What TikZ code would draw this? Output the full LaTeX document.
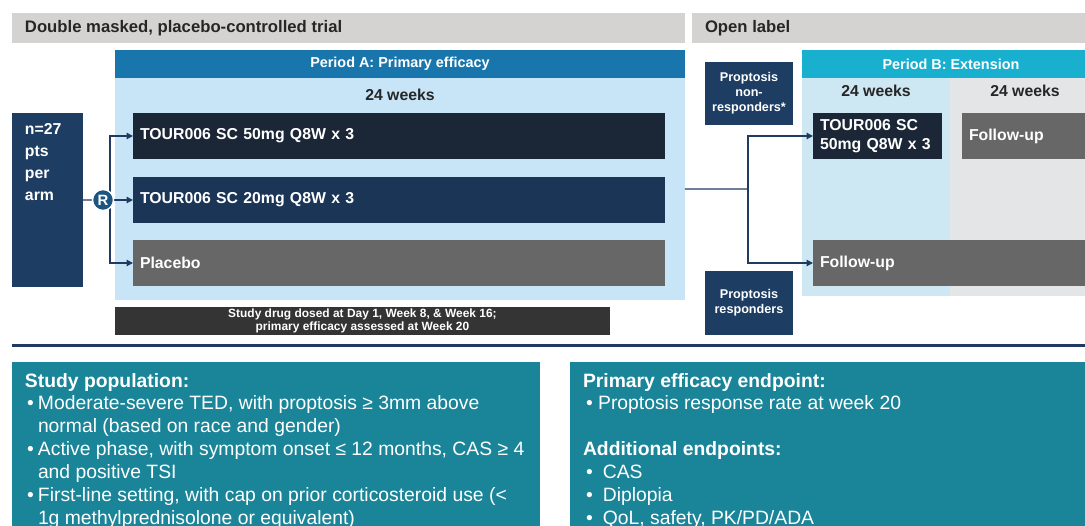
\documentclass[tikz,border=0pt]{standalone}
\usepackage{fontspec}
\setmainfont{Liberation Sans}
\usepackage{tikz}
\usetikzlibrary{arrows.meta}
\definecolor{hdrgrey}{RGB}{212,211,210}
\definecolor{blueA}{RGB}{24,118,173}
\definecolor{paleA}{RGB}{199,229,246}
\definecolor{cyanB}{RGB}{25,176,208}
\definecolor{paleB}{RGB}{205,231,243}
\definecolor{greyB}{RGB}{228,229,231}
\definecolor{navyP}{RGB}{30,61,99}
\definecolor{navyA}{RGB}{27,38,54}
\definecolor{navyB}{RGB}{27,53,87}
\definecolor{greyArm}{RGB}{103,103,103}
\definecolor{darkNote}{RGB}{52,52,52}
\definecolor{lineC}{RGB}{31,59,96}
\definecolor{rC}{RGB}{28,85,128}
\definecolor{tealC}{RGB}{26,133,152}
\definecolor{txtC}{RGB}{38,38,38}
\newcommand\itemdotA{\makebox[7.4pt][l]{\hspace*{1.2pt}\textbullet}}
\newcommand\itemdotB{\makebox[8.6pt][l]{\hspace*{1.8pt}\textbullet}}
\newcommand\itemdotC{\makebox[11.3pt][l]{\hspace*{1.8pt}\textbullet}}

\begin{document}
\begin{tikzpicture}[x=0.02cm, y=-0.02cm,
    every node/.style={inner sep=0, outer sep=0},
    bg/.style={anchor=north west},
    box/.style={anchor=north west, text=white, font=\bfseries\fontsize{9}{10.5}\selectfont},
    arm/.style={box, inner xsep=0.14cm, minimum height=0.92cm, align=left},
    tag/.style={box, fill=navyP, minimum width=1.76cm, align=center, font=\bfseries\fontsize{7.2}{8.5}\selectfont},
    hdr/.style={bg, fill=hdrgrey, minimum height=0.6cm},
    wk/.style={text=txtC, font=\bfseries\fontsize{9}{10}\selectfont},
    per/.style={box, minimum height=0.56cm, font=\bfseries\fontsize{8.2}{9}\selectfont},
    lnk/.style={draw=lineC, line width=0.7pt},
    arr/.style={lnk, -{Triangle[length=3.6pt, width=3.6pt]}},
    info/.style={anchor=north west, align=left, text=white, font=\fontsize{11}{13}\selectfont}]
  \useasboundingbox (0,0) rectangle (1085,526);
  \clip (0,0) rectangle (1085,526);
  \node [hdr, minimum width=13.46cm] (H1) at (12,13) {};
  \node [hdr, minimum width=8.16cm] (H2) at (692,13) {};
  \node [wk, anchor=west, font=\bfseries\fontsize{9.5}{10}\selectfont] (H1t) at (25,28.5) {Double masked, placebo-controlled trial};
  \node [wk, anchor=west, font=\bfseries\fontsize{9.5}{10}\selectfont] (H2t) at (705,28.5) {Open label};
  \node [bg, fill=paleA, minimum width=11.4cm, minimum height=4.44cm] (bA) at (115,78) {};
  \node [per, fill=blueA, minimum width=11.4cm] (hA) at (115,50) {Period A: Primary efficacy};
  \node [bg, fill=paleB, minimum width=2.96cm, minimum height=4.36cm] (bB1) at (802,78) {};
  \node [bg, fill=greyB, minimum width=3cm, minimum height=4.36cm] (bB2) at (950,78) {};
  \node [per, fill=cyanB, minimum width=5.96cm] (hB) at (802,50) {Period B: Extension};
  \node [wk] (wA) at (400,95) {24 weeks};
  \node [wk] (wB1) at (876,91) {24 weeks};
  \node [wk] (wB2) at (1025,91) {24 weeks};
  \node [box, fill=navyP, minimum width=1.42cm, minimum height=3.48cm] (P) at (12,113) {};
  \node [box, align=left, font=\bfseries\fontsize{9}{12.6}\selectfont] (Pt) at (25,123) {n=27\\pts\\per\\arm};
  \node [arm, fill=navyA, text width=10.36cm] (A1) at (133,113) {TOUR006 SC 50mg Q8W x 3};
  \node [arm, fill=navyB, text width=10.36cm] (A2) at (133,177) {TOUR006 SC 20mg Q8W x 3};
  \node [arm, fill=greyArm, text width=10.36cm] (A3) at (133,240) {Placebo};
  \node [box, fill=darkNote, minimum width=9.9cm, minimum height=0.56cm, align=center, font=\bfseries\fontsize{6.8}{7.4}\selectfont] (N) at (115,307) {Study drug dosed at Day 1, Week 8, \& Week 16;\\primary efficacy assessed at Week 20};
  \node [tag, minimum height=1.26cm] (NR) at (705,62) {Proptosis\\non-\\responders*};
  \node [tag, minimum height=1.28cm] (RS) at (705,271) {Proptosis\\responders};
  \node [arm, fill=navyA, text width=2.3cm] (B1) at (813,113) {TOUR006 SC\\50mg Q8W x 3};
  \node [arm, fill=greyArm, text width=2.5cm] (F1) at (962,113) {Follow-up};
  \node [arm, fill=greyArm, text width=5.46cm] (F2) at (813,240) {Follow-up};
  \coordinate (S) at (110,200);
  \coordinate (M) at (748,189);
  \draw [lnk] (P.east) -- (S);
  \foreach \x in {A1,A2,A3} {\draw [arr] (S) |- (\x.west);}
  \draw [lnk] (bA.east) -- (M);
  \foreach \x in {B1,F2} {\draw [arr] (M) |- (\x.west);}
  \node [circle, fill=rC, draw=white, line width=0.8pt, minimum size=0.42cm, text=white, font=\bfseries\fontsize{8.5}{8.5}\selectfont] (R) at (103,200) {R};
  \draw [lineC, line width=1.7pt] (12,345.5) -- (1100,345.5);
  \node [bg, fill=tealC, minimum width=10.56cm, minimum height=3.5cm] (SP) at (12,362) {};
  \node [bg, fill=tealC, minimum width=10.6cm, minimum height=3.5cm] (EP) at (570,362) {};
  \node [info] (SPt) at (25,373) {\textbf{Study population:}\\
    \itemdotA Moderate-severe TED, with proptosis ≥ 3mm above\\
    \hspace*{7.4pt}normal (based on race and gender)\\
    \itemdotA Active phase, with symptom onset ≤ 12 months, CAS ≥ 4\\
    \hspace*{7.4pt}and positive TSI\\
    \itemdotA First-line setting, with cap on prior corticosteroid use (<\\
    \hspace*{7.4pt}1g methylprednisolone or equivalent)};
  \node [info] (EPt) at (583,373) {\textbf{Primary efficacy endpoint:}\\
    \itemdotB Proptosis response rate at week 20\\[13pt]
    \textbf{Additional endpoints:}\\
    \itemdotC CAS\\
    \itemdotC Diplopia\\
    \itemdotC QoL, safety, PK/PD/ADA};
\end{tikzpicture}
\end{document}
